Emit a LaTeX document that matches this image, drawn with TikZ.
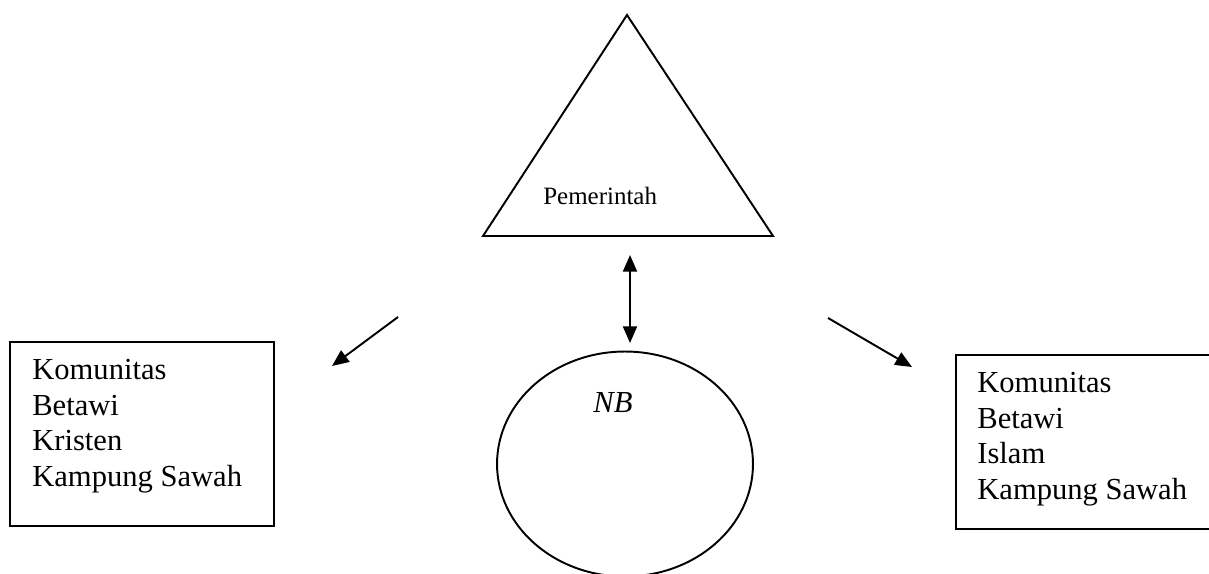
\documentclass[tikz,border=0pt]{standalone}
\usepackage{fontspec}
\setmainfont{Liberation Serif}
\usetikzlibrary{arrows.meta,positioning,shapes.geometric}

\tikzset{
	box/.style={draw, line width=1.1pt, inner sep=0pt, anchor=north west},
	lines/.style={align=left, inner sep=0pt, anchor=north west, font=\fontsize{17.4}{20.3}\selectfont},
	link/.style={line width=1.1pt, -{Triangle[length=9.5pt,width=8pt]}},
}

\begin{document}
\begin{tikzpicture}[x=0.02cm, y=-0.02cm]
	\useasboundingbox (0,0) rectangle (1209,574);

	\coordinate (apex) at (627,15);
	\coordinate (baseR) at (773,236);
	\coordinate (baseL) at (483,236);

	\draw
		[line width=1.1pt, line join=miter] (apex) -- (baseR) -- (baseL) -- cycle;

	\node [anchor=base west, inner sep=0pt, font=\fontsize{14.2}{17}\selectfont] (gov) at (543,204) {Pemerintah};

	\node [box, minimum width=5.28cm, minimum height=3.68cm] (kristenbox) at (9,341) {};

	\node [lines] (kristen) at ([shift={(23,18)}]kristenbox.north west) {Komunitas\\Betawi\\Kristen\\Kampung Sawah};

	\node [box, minimum width=5.2cm, minimum height=3.48cm] (islambox) at (955,354) {};

	\node [lines] (islam) at ([shift={(22,18)}]islambox.north west) {Komunitas\\Betawi\\Islam\\Kampung Sawah};

	\node [draw, ellipse, line width=1.1pt, inner sep=0pt, minimum width=5.12cm, minimum height=4.5cm] (nb) at (625,464) {};

	\node [anchor=base, inner sep=0pt, font=\fontsize{17.4}{20.3}\selectfont\itshape] (nbtext) at (613,412) {NB};

	\coordinate (leftfrom) at (398,317);
	\coordinate (leftto) at (332,366);
	\coordinate (rightfrom) at (828,318);
	\coordinate (rightto) at (912,367);
	\coordinate (midtop) at (630,255);
	\coordinate (midbottom) at (630,343);

	\draw [link] (leftfrom) -- (leftto);

	\draw [link] (rightfrom) -- (rightto);

	\draw [link, {Triangle[length=9.5pt,width=8pt]}-{Triangle[length=9.5pt,width=8pt]}] (midtop) -- (midbottom);
\end{tikzpicture}
\end{document}
